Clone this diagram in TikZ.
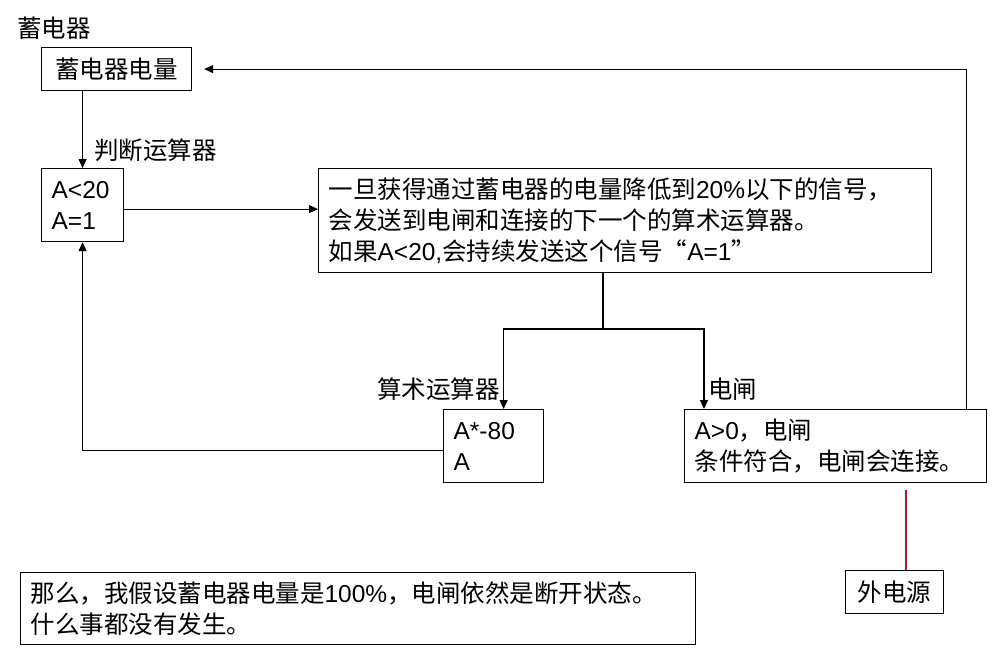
\documentclass[tikz,border=0pt]{standalone}
\usepackage{fontspec}
\setmainfont{Liberation Sans}
\newfontfamily\cjk{Noto Sans CJK SC}
\newcommand{\zh}[1]{{\cjk #1}}
\usetikzlibrary{arrows.meta}
\definecolor{wirered}{RGB}{170,30,40}
\tikzset{
  box/.style={draw, line width=1.2pt, anchor=north west, inner xsep=10pt, inner ysep=0pt, align=left},
  lab/.style={inner sep=0pt},
  arr/.style={line width=1.2pt, -{Triangle[length=9pt,width=8pt]}},
  wire/.style={line width=1.2pt},
  redwire/.style={line width=1.2pt, draw=wirered}
}
\begin{document}
\begin{tikzpicture}[x=1pt, y=-1pt, font=\fontsize{24.5}{31}\selectfont]
    \useasboundingbox (0,0) rectangle (1003,656);
    \node[lab, anchor=west] (title) at (17,28) {\zh{蓄电器}};
    \node[box, text width=130pt, minimum height=43pt, align=center] (store) at (41,47) {\zh{蓄电器电量}};
    \node[box, text width=62pt, minimum height=73pt] (judge) at (41,168) {A<20\\A=1};
    \node[box, text width=593pt, minimum height=104pt] (signal) at (318,168)
        {\zh{一旦获得通过蓄电器的电量降低到}20\%\zh{以下的信号，}\\
         \zh{会发送到电闸和连接的下一个的算术运算器。}\\
         \zh{如果}A<20,\zh{会持续发送这个信号“}A=1\zh{”}};
    \node[box, text width=80pt, minimum height=73pt] (calc) at (443,409) {A*-80\\A};
    \node[box, text width=282pt, minimum height=73pt] (gate) at (684,409)
        {A>0\zh{，电闸}\\\zh{条件符合，电闸会连接。}};
    \node[box, text width=78pt, minimum height=43pt, align=center] (mains) at (845,570) {\zh{外电源}};
    \node[box, text width=655pt, minimum height=72pt] (note) at (20,572)
        {\zh{那么，我假设蓄电器电量是}100\%\zh{，电闸依然是断开状态。}\\\zh{什么事都没有发生。}};
    \node[lab, anchor=east] (calclab) at (500,389) {\zh{算术运算器}};
    \node[lab, anchor=west] (gatelab) at (708,389) {\zh{电闸}};
    \coordinate (split) at (603,329);
    \coordinate (tap) at (906,490);
    \draw[arr] (judge.north |- store.south) -- (judge.north)
        node[lab, pos=0.77, anchor=west, xshift=11pt] (judgelab) {\zh{判断运算器}};
    \draw[arr] ([yshift=-4pt]judge.east) -- ([yshift=-4pt]judge.east -| signal.west);
    \draw[wire] (split |- signal.south) -- (split);
    \draw[arr] (split) -| ([xshift=10pt]calc.north);
    \draw[arr] (split) -| ([xshift=20pt]gate.north west);
    \draw[arr] ([yshift=-4pt]calc.west) -| (judge.south);
    \draw[arr] ([xshift=-21pt]gate.north east) |- ([xshift=12pt]store.east);
    \draw[redwire] (tap) -- (tap |- mains.north);
\end{tikzpicture}
\end{document}
